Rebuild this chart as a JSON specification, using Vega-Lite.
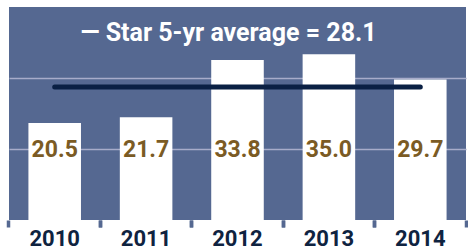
{
  "$schema": "https://vega.github.io/schema/vega-lite/v6.json",
  "autosize": {"type": "none"},
  "width": 457,
  "height": 213,
  "padding": {"left": 9, "top": 7, "right": 2, "bottom": 29},
  "background": "white",
  "config": {
    "view": {"fill": "#556891", "stroke": null},
    "font": "Roboto"
  },
  "title": {
    "text": "— Star 5-yr average = 28.1",
    "color": "white",
    "font": "Roboto",
    "fontWeight": "bold",
    "fontSize": 25,
    "anchor": "middle",
    "frame": "group",
    "baseline": "alphabetic",
    "offset": -59,
    "dx": -9
  },
  "data": {
    "values": [
      {"year": "2010", "value": 20.5, "avg": 28.1},
      {"year": "2011", "value": 21.7, "avg": 28.1},
      {"year": "2012", "value": 33.8, "avg": 28.1},
      {"year": "2013", "value": 35.0, "avg": 28.1},
      {"year": "2014", "value": 29.7, "avg": 28.1}
    ]
  },
  "resolve": {"axis": {"x": "independent"}},
  "layer": [
    {
      "mark": {"type": "bar", "color": "white"},
      "encoding": {
        "x": {
          "field": "year",
          "type": "nominal",
          "scale": {"paddingInner": 0.425, "paddingOuter": 0.2125},
          "axis": {
            "title": null,
            "orient": "bottom",
            "labelAngle": 0,
            "labelFont": "Roboto",
            "labelFontWeight": "bold",
            "labelFontSize": 22,
            "labelColor": "#0f2340",
            "labelPadding": 1,
            "domain": false,
            "bandPosition": -0.37,
            "tickColor": "#556891",
            "tickWidth": 3.5,
            "tickSize": 7,
            "grid": false
          }
        },
        "y": {
          "field": "value",
          "type": "quantitative",
          "scale": {"domain": [0, 45], "nice": false},
          "axis": {
            "title": null,
            "values": [15, 30],
            "labels": false,
            "ticks": false,
            "domain": false,
            "grid": true,
            "gridColor": "#a7acca",
            "gridWidth": 1.5,
            "gridOpacity": 1
          }
        }
      }
    },
    {
      "mark": {"type": "text", "font": "Roboto", "fontWeight": "bold", "fontSize": 23, "color": "#7b5b24", "baseline": "middle", "dy": 1},
      "encoding": {
        "x": {
          "field": "year",
          "type": "nominal",
          "axis": {
            "title": null,
            "orient": "bottom",
            "labels": false,
            "domain": false,
            "bandPosition": 1.37,
            "tickColor": "#556891",
            "tickWidth": 3.5,
            "tickSize": 7,
            "grid": false
          }
        },
        "y": {"datum": 15, "type": "quantitative"},
        "text": {"field": "value", "type": "quantitative", "format": ".1f"}
      }
    },
    {
      "mark": {"type": "rule", "color": "#0a2044", "strokeWidth": 5, "strokeCap": "round"},
      "encoding": {
        "x": {"aggregate": "min", "field": "year", "type": "nominal", "axis": null},
        "x2": {"aggregate": "max", "field": "year"},
        "y": {"aggregate": "mean", "field": "avg", "type": "quantitative"}
      }
    }
  ]
}
